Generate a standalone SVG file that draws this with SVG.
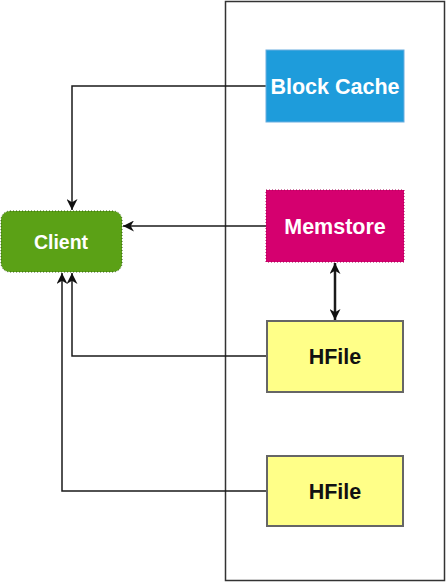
<svg xmlns="http://www.w3.org/2000/svg" width="446" height="582" viewBox="0 0 446 582">
<style>
.lbl{font-family:"Liberation Sans",Arial,sans-serif;font-weight:bold;text-anchor:middle}
.w{fill:#ffffff}
.k{fill:#111111}
.conn{fill:none;stroke:#1a1a1a;stroke-width:1.5}
</style>
<defs>
<marker id="ah" viewBox="0 0 10 10" refX="10" refY="5" markerWidth="11" markerHeight="11" markerUnits="userSpaceOnUse" orient="auto-start-reverse">
<path d="M0,0 L10,5 L0,10 L3,5 z" fill="#111"/>
</marker>
</defs>
<g id="container"><rect x="225.5" y="1.5" width="219" height="579" fill="none" stroke="#333" stroke-width="1.5"/></g>
<g id="connectors">
<path class="conn" d="M266,86 H72 V210" marker-end="url(#ah)"/>
<path class="conn" d="M266,226 H123" marker-end="url(#ah)"/>
<path class="conn" d="M267,356 H72 V273" marker-end="url(#ah)"/>
<path class="conn" d="M267,491 H62 V273" marker-end="url(#ah)"/>
<path class="conn" style="stroke-width:2.5" d="M335,263 V320" marker-start="url(#ah)" marker-end="url(#ah)"/>
</g>
<g id="blockcache"><rect x="266" y="50" width="138" height="72" fill="#1E9CDB" stroke="#6aaee0" stroke-width="1"/><text class="lbl w" x="335" y="93.5" font-size="21.5">Block Cache</text></g>
<g id="memstore"><rect x="266" y="190" width="138" height="72" fill="#D5006F" stroke="#a50055" stroke-width="1" stroke-dasharray="1 2"/><text class="lbl w" x="335" y="233.5" font-size="21.5">Memstore</text></g>
<g id="client"><rect x="1" y="211" width="121" height="61" rx="9" fill="#5BA116" stroke="#2d5a0b" stroke-width="1" stroke-dasharray="1 2"/><text class="lbl w" x="61" y="248.5" font-size="19.5">Client</text></g>
<g id="hfile1"><rect x="267" y="321" width="136" height="71" fill="#FFFF88" stroke="#666" stroke-width="2"/><text class="lbl k" x="335" y="363.5" font-size="21.5">HFile</text></g>
<g id="hfile2"><rect x="267" y="456" width="136" height="70" fill="#FFFF88" stroke="#666" stroke-width="2"/><text class="lbl k" x="335" y="499" font-size="21.5">HFile</text></g>
</svg>
